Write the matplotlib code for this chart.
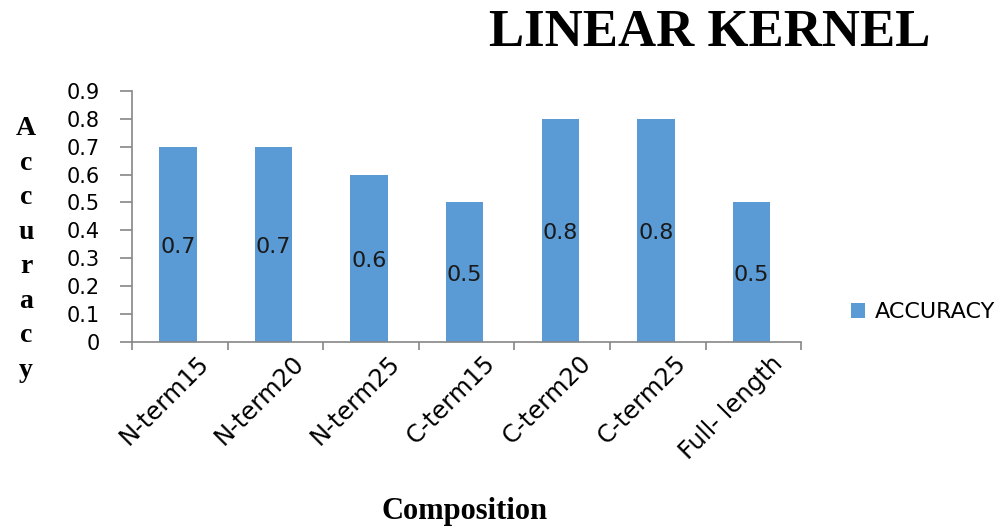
import numpy as np
import matplotlib.pyplot as plt
from matplotlib.transforms import ScaledTranslation

categories = ['N-term15', 'N-term20', 'N-term25', 'C-term15', 'C-term20', 'C-term25', 'Full- length']
accuracy = [0.7, 0.7, 0.6, 0.5, 0.8, 0.8, 0.5]
yticks = [0, 0.1, 0.2, 0.3, 0.4, 0.5, 0.6, 0.7, 0.8, 0.9]

blue = '#5B9BD5'
grey = '#868686'

fig = plt.figure(figsize=(10.02, 5.27), dpi=100)
ax = fig.add_axes([0.1317, 0.3516, 0.668, 0.4757])

x = np.arange(len(categories))
bars = ax.bar(x - 0.02, accuracy, width=0.39, color=blue, label='ACCURACY', zorder=2)

for xi, v in zip(x, accuracy):
    ax.text(xi - 0.02, v / 2 - 0.01, str(v), ha='center', va='center', fontsize=16, color='#1a1a1a')

ax.set_xlim(-0.5, len(categories) - 0.5)
ax.set_ylim(0, 0.9)
ax.set_yticks(yticks)
ax.set_yticklabels([f'{t:g}' for t in yticks], fontsize=15)

# Excel style ticks at category boundaries
ax.set_xticks(np.arange(len(categories) + 1) - 0.5)
ax.set_xticklabels([])
ax.set_xticks(x, minor=True)
ax.set_xticklabels(categories, minor=True, rotation=45, ha='right', va='center',
                   rotation_mode='anchor', fontsize=17.5)
ax.tick_params(axis='x', which='minor', length=0, pad=13)
for lab in ax.get_xticklabels(minor=True):
    lab.set_transform(lab.get_transform() + ScaledTranslation(0.25, 0, fig.dpi_scale_trans))

ax.tick_params(axis='x', which='major', color=grey, length=6, width=1.2)
ax.tick_params(axis='y', color=grey, length=9, width=1.2, pad=14)
for side in ['top', 'right']:
    ax.spines[side].set_visible(False)
for side in ['left', 'bottom']:
    ax.spines[side].set_color(grey)
    ax.spines[side].set_linewidth(1.2)

fig.text(0.708, 0.937, 'LINEAR KERNEL', ha='center', va='center', fontsize=38,
         fontweight='bold', family='Liberation Serif')
fig.text(0.464, 0.03, 'Composition', ha='center', va='center', fontsize=22,
         fontweight='bold', family='Liberation Serif')
fig.text(0.026, 0.527, '\n'.join('Accuracy'), ha='center', va='center', fontsize=20,
         fontweight='bold', family='Liberation Serif', linespacing=1.5)

fig.legend(handles=[bars], labels=['ACCURACY'], loc='center left',
           bbox_to_anchor=(0.849, 0.408), frameon=False, fontsize=16,
           handlelength=0.65, handleheight=0.65, handletextpad=0.45,
           borderpad=0, borderaxespad=0)

fig.savefig('out.png', dpi=100)
